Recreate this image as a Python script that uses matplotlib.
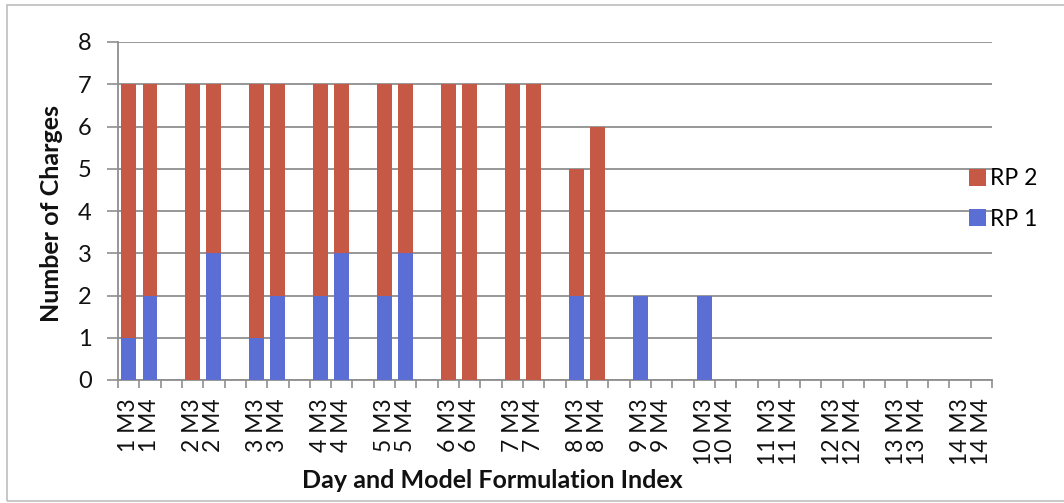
import matplotlib
matplotlib.use("Agg")
import matplotlib.pyplot as plt
from matplotlib.patches import Patch, Rectangle
from matplotlib.ticker import FixedLocator

plt.rcParams['font.family'] = ['Lato', 'DejaVu Sans']

# ---- data ----
days = list(range(1, 15))
models = ["M3", "M4"]
rp1 = [1, 2, 0, 3, 1, 2, 2, 3, 2, 3, 0, 0, 0, 0, 2, 0, 2, 0, 2, 0,
       0, 0, 0, 0, 0, 0, 0, 0]
rp2 = [6, 5, 7, 4, 6, 5, 5, 4, 5, 4, 7, 7, 7, 7, 3, 6, 0, 0, 0, 0,
       0, 0, 0, 0, 0, 0, 0, 0]
series_names = ["RP 1", "RP 2"]
yticks = list(range(0, 9))

RED = "#C65846"
BLUE = "#5A6ED4"
GRID = "#8F8F8F"
TXT = "#111111"

# category positions: each day = M3, M4, then one empty slot
labels = []
pos = []
for di, d in enumerate(days):
    for mi, m in enumerate(models):
        labels.append(f"{d} {m}")
        pos.append(di * 3 + mi)
ncat = len(days) * 3 - 1

W, H = 1064, 503
fig = plt.figure(figsize=(W / 100, H / 100), dpi=100)
ax = fig.add_axes([118 / W, 1 - 380 / H, (992 - 118) / W, (380 - 42) / H])

ax.bar(pos, rp1, width=0.7, color=BLUE, zorder=3)
ax.bar(pos, rp2, width=0.7, bottom=rp1, color=RED, zorder=3)

ax.set_xlim(-0.5, ncat - 0.5)
ax.set_ylim(0, 8)
ax.set_yticks(yticks)
ax.yaxis.grid(True, color=GRID, linewidth=1.3, zorder=0)
ax.set_axisbelow(True)

ax.set_xticks(pos)
ax.set_xticklabels(labels, rotation=90, fontsize=16.5, color=TXT)
ax.xaxis.set_minor_locator(FixedLocator([i - 0.5 for i in range(ncat + 1)]))
ax.tick_params(axis='x', which='major', length=0, pad=13)
ax.tick_params(axis='x', which='minor', length=6, width=1.2, color=GRID)
ax.tick_params(axis='y', length=8, width=1.2, color=GRID, pad=11,
               labelsize=17, labelcolor=TXT)

for s in ["top", "right"]:
    ax.spines[s].set_visible(False)
for s in ["left", "bottom"]:
    ax.spines[s].set_color(GRID)
    ax.spines[s].set_linewidth(1.3)

fig.text(492 / W, 1 - 480 / H, "Day and Model Formulation Index",
         ha="center", va="center", fontsize=18, fontweight="bold", color=TXT)
fig.text(52 / W, 1 - 213 / H, "Number of Charges", rotation=90,
         ha="center", va="center", fontsize=18, fontweight="bold", color=TXT)

handles = [Patch(facecolor=RED, label=series_names[1]),
           Patch(facecolor=BLUE, label=series_names[0])]
fig.legend(handles=handles, loc="center left",
           bbox_to_anchor=(969 / W, 1 - 199 / H), frameon=False,
           fontsize=16.5, handlelength=0.75, handleheight=0.75,
           handletextpad=0.15, labelspacing=0.85, borderpad=0, borderaxespad=0)

# outer chart border
fig.patches.append(Rectangle((7 / W, 1 - 501 / H), (1080 - 7) / W, (501 - 5) / H,
                             transform=fig.transFigure, fill=False,
                             edgecolor="#BDBDBD", linewidth=1.2))

fig.savefig("out.png", dpi=100)
